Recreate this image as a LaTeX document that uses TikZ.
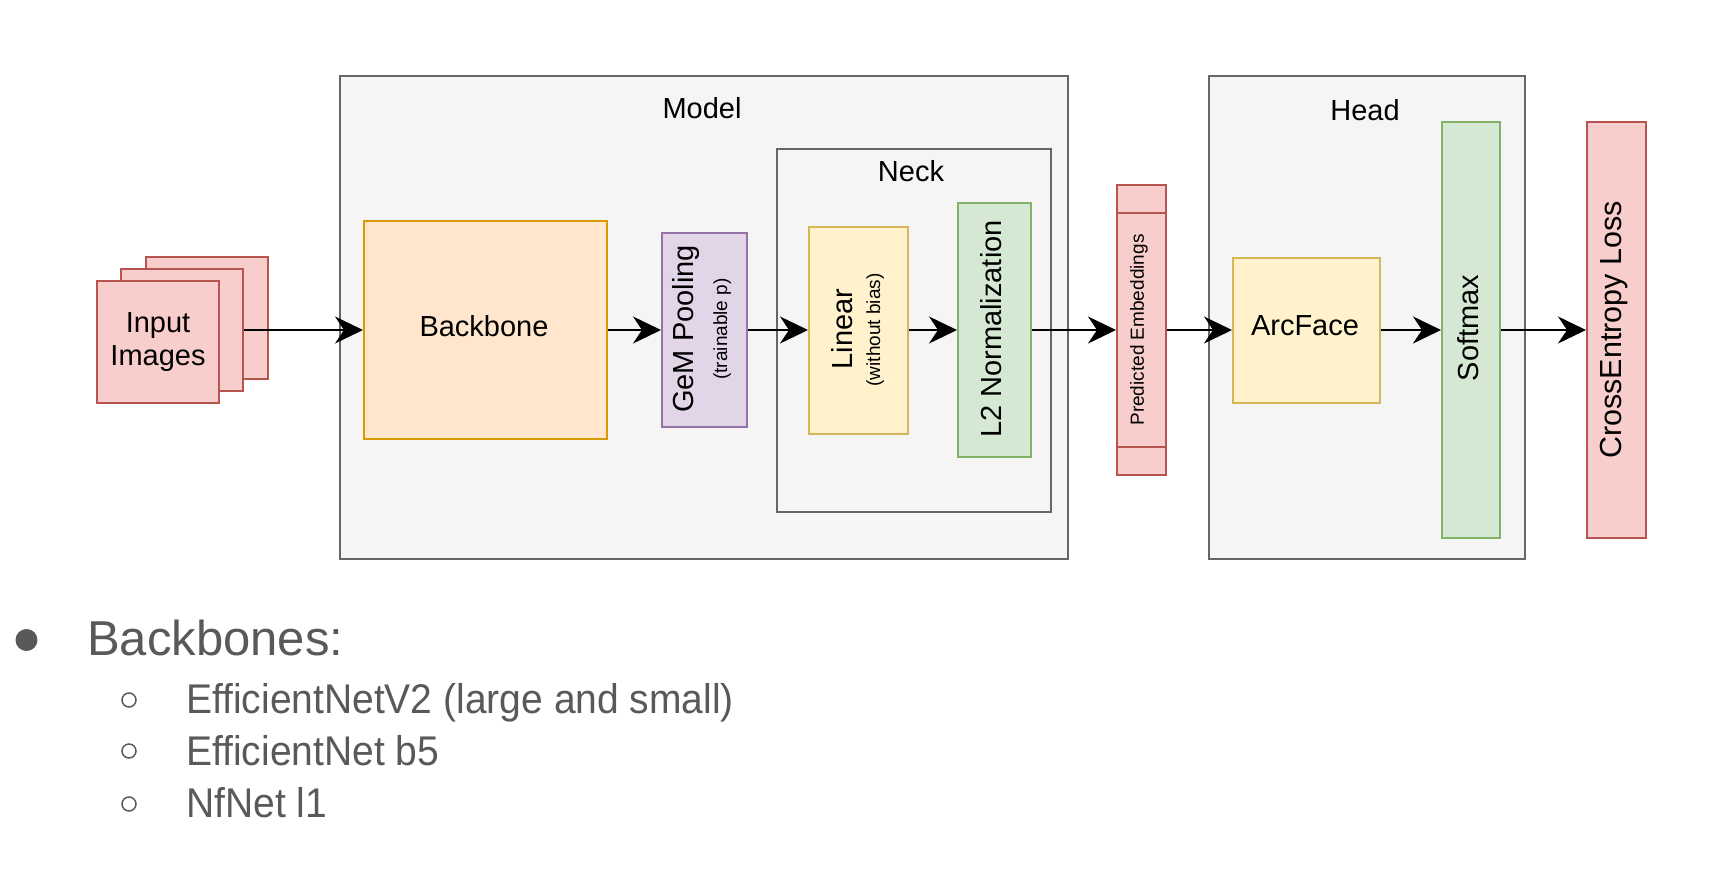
\documentclass[tikz,border=0pt]{standalone}
\usepackage{fontspec}
\setmainfont{Liberation Sans}
\newfontfamily\narrowsans[FakeStretch=0.94]{Liberation Sans}
\usetikzlibrary{arrows.meta}
\definecolor{redF}{HTML}{F8CECC}\definecolor{redS}{HTML}{B85450}
\definecolor{orF}{HTML}{FFE6CC}\definecolor{orS}{HTML}{D79B00}
\definecolor{puF}{HTML}{E1D5E7}\definecolor{puS}{HTML}{9673A6}
\definecolor{yeF}{HTML}{FFF2CC}\definecolor{yeS}{HTML}{D6B656}
\definecolor{grF}{HTML}{D5E8D4}\definecolor{grS}{HTML}{82B366}
\definecolor{coF}{HTML}{F5F5F5}\definecolor{coS}{HTML}{666666}
\definecolor{txtgray}{HTML}{595959}
\tikzset{
  boxbase/.style={rectangle, inner sep=0pt, line width=2pt},
  redbox/.style={boxbase, fill=redF, draw=redS},
  orbox/.style={boxbase, fill=orF, draw=orS},
  pubox/.style={boxbase, fill=puF, draw=puS},
  yebox/.style={boxbase, fill=yeF, draw=yeS},
  grbox/.style={boxbase, fill=grF, draw=grS},
  contbox/.style={boxbase, fill=coF, draw=coS},
  bigtxt/.style={font=\fontsize{29}{33}\selectfont, align=center, inner sep=0pt},
  smalltxt/.style={font=\fontsize{19}{22}\selectfont, inner sep=0pt},
  vbase/.style={rotate=90, anchor=base, inner sep=0pt},
  flow/.style={line width=2.2pt, -{Stealth[length=28pt,width=27pt,inset=9pt]}},
  listtxt/.style={anchor=base west, inner sep=0pt, text=txtgray},
}
\begin{document}
\begin{tikzpicture}[x=1pt,y=-1pt]
\useasboundingbox (0,0) rectangle (1730,868);
% containers
\node[contbox, minimum width=728pt, minimum height=483pt] (model) at (704,317.5) {};
\node[bigtxt] (modellbl) at (702,108) {Model};
\node[contbox, minimum width=274pt, minimum height=363pt] (neck) at (914,330.5) {};
\node[bigtxt] (necklbl) at (911,171) {Neck};
\node[contbox, minimum width=316pt, minimum height=483pt] (head) at (1367,317.5) {};
\node[bigtxt] (headlbl) at (1365,110) {Head};
% input images
\node[redbox, minimum width=122pt, minimum height=122pt] (img3) at (207,318) {};
\node[redbox, minimum width=122pt, minimum height=122pt] (img2) at (182,330) {};
\node[redbox, minimum width=122pt, minimum height=122pt] (img1) at (158,342) {};
\node[bigtxt] (imglbl) at (158,342) {Input\\Images};
% blocks
\node[orbox, minimum width=243pt, minimum height=218pt] (backbone) at (485.5,330) {};
\node[bigtxt] (backbonelbl) at (484,326) {Backbone};
\node[pubox, minimum width=85pt, minimum height=194pt] (gem) at (704.5,330) {};
\node[bigtxt, vbase] (gemlbl) at (693,329) {GeM Pooling};
\node[smalltxt, vbase] (gemsub) at (727,329) {(trainable p)};
\node[yebox, minimum width=99pt, minimum height=207pt] (linear) at (858.5,330) {};
\node[bigtxt, vbase] (linearlbl) at (852,329) {Linear};
\node[smalltxt, vbase] (linearsub) at (880,330) {(without bias)};
\node[grbox, minimum width=73pt, minimum height=254pt] (l2) at (994.5,330) {};
\node[bigtxt, rotate=90] (l2lbl) at (991,329) {L2 Normalization};
\node[redbox, minimum width=49pt, minimum height=290pt] (pe) at (1141.5,330) {};
\draw[redS, line width=2pt] (pe.west |- 0,213) coordinate (pet1) -- (pe.east |- 0,213) coordinate (pet2);
\draw[redS, line width=2pt] (pe.west |- 0,447) coordinate (peb1) -- (pe.east |- 0,447) coordinate (peb2);
\node[smalltxt, rotate=90] (pelbl) at (1139,330) {Predicted Embeddings};
\node[yebox, minimum width=147pt, minimum height=145pt] (arcface) at (1306.5,330) {};
\node[bigtxt] (arclbl) at (1305,326) {ArcFace};
\node[grbox, minimum width=58pt, minimum height=416pt] (softmax) at (1471,330) {};
\node[bigtxt, rotate=90] (softlbl) at (1468,328) {Softmax};
\node[redbox, minimum width=59pt, minimum height=416pt] (ce) at (1616.5,330) {};
\node[bigtxt, rotate=90, font=\fontsize{30.5}{34}\selectfont] (celbl) at (1614,330) {CrossEntropy Loss};
% arrows
\draw[flow] (img2.east) -- (backbone.west);
\draw[flow] (backbone.east) -- (gem.west);
\draw[flow] (gem.east) -- (linear.west);
\draw[flow] (linear.east) -- (l2.west);
\draw[flow] (l2.east) -- (pe.west);
\draw[flow] (pe.east) -- (arcface.west);
\draw[flow] (arcface.east) -- (softmax.west);
\draw[flow] (softmax.east) -- (ce.west);
% bullet list
\fill[txtgray] (26.5,640) circle (11pt);
\node[listtxt, font=\fontsize{49}{56}\selectfont] (bb) at (87,655) {Backbones:};
\draw[txtgray, line width=1.5pt] (129,700) circle (7pt);
\draw[txtgray, line width=1.5pt] (129,751) circle (7pt);
\draw[txtgray, line width=1.5pt] (129,804) circle (7pt);
\node[listtxt, font=\narrowsans\fontsize{41.5}{48}\selectfont] (it1) at (186,713) {EfficientNetV2 (large and small)};
\node[listtxt, font=\narrowsans\fontsize{41.5}{48}\selectfont] (it2) at (186,765) {EfficientNet b5};
\node[listtxt, font=\narrowsans\fontsize{41.5}{48}\selectfont] (it3) at (186,817) {NfNet l1};
\end{tikzpicture}
\end{document}
